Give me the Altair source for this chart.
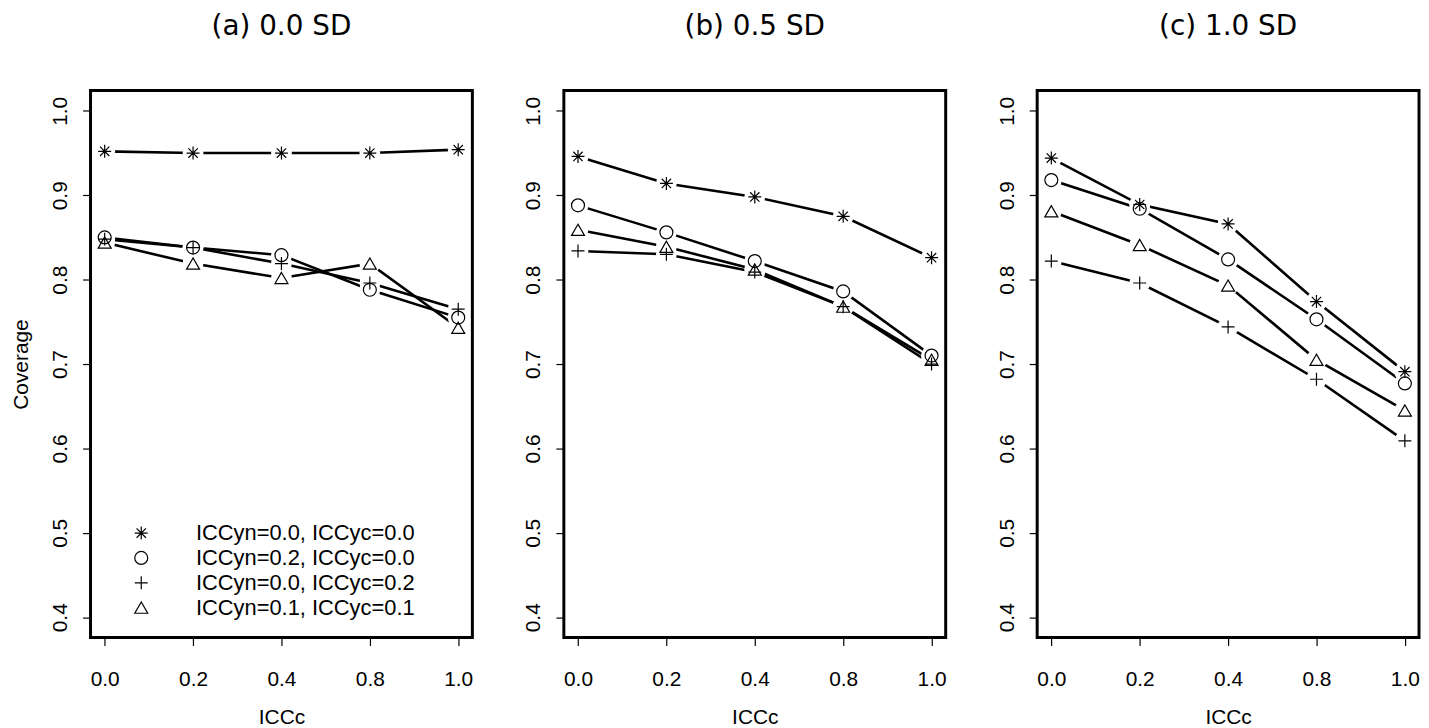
import altair as alt
import pandas as pd

# ---- data ----
x_labels = ["0.0", "0.2", "0.4", "0.8", "1.0"]
series_names = [
    "ICCyn=0.0, ICCyc=0.0",
    "ICCyn=0.2, ICCyc=0.0",
    "ICCyn=0.0, ICCyc=0.2",
    "ICCyn=0.1, ICCyc=0.1",
]
panel_titles = ["(a) 0.0 SD", "(b) 0.5 SD", "(c) 1.0 SD"]

a_s1 = [0.952, 0.950, 0.950, 0.950, 0.954]
a_s2 = [0.850, 0.838, 0.829, 0.788, 0.755]
a_s3 = [0.848, 0.838, 0.819, 0.796, 0.765]
a_s4 = [0.844, 0.819, 0.802, 0.819, 0.743]

b_s1 = [0.946, 0.914, 0.898, 0.875, 0.826]
b_s2 = [0.888, 0.856, 0.822, 0.786, 0.710]
b_s3 = [0.834, 0.830, 0.809, 0.768, 0.700]
b_s4 = [0.859, 0.839, 0.812, 0.768, 0.705]

c_s1 = [0.944, 0.889, 0.866, 0.774, 0.691]
c_s2 = [0.918, 0.884, 0.824, 0.753, 0.677]
c_s3 = [0.822, 0.796, 0.744, 0.682, 0.609]
c_s4 = [0.881, 0.841, 0.793, 0.705, 0.645]

y_ticks = [0.4, 0.5, 0.6, 0.7, 0.8, 0.9, 1.0]

panels = [
    [a_s1, a_s2, a_s3, a_s4],
    [b_s1, b_s2, b_s3, b_s4],
    [c_s1, c_s2, c_s3, c_s4],
]

STAR = "M-1,0L1,0M0,-1L0,1M-0.72,-0.72L0.72,0.72M-0.72,0.72L0.72,-0.72"
PLUS = "M-1,0L1,0M0,-1L0,1"
shape_range = [STAR, "circle", PLUS, "triangle-up"]

FONT = "Liberation Sans"
W, H = 384, 550


def make_panel(idx):
    rows = []
    for s_name, vals in zip(series_names, panels[idx]):
        for xl, v in zip(x_labels, vals):
            rows.append({"series": s_name, "ICCc": xl, "Coverage": v})
    df = pd.DataFrame(rows)

    x_enc = alt.X(
        "ICCc:O",
        sort=x_labels,
        scale=alt.Scale(type="point", padding=0.16),
        axis=alt.Axis(title="ICCc", labelAngle=0, labelPadding=23,
                      titlePadding=17),
    )
    if idx == 0:
        y_axis = alt.Axis(title="Coverage", values=y_ticks, format=".1f",
                          labelAngle=-90, labelPadding=12, titlePadding=18)
    else:
        y_axis = alt.Axis(title=None, values=y_ticks, format=".1f",
                          labelAngle=-90, labelPadding=12)
    y_enc = alt.Y("Coverage:Q", scale=alt.Scale(domain=[0.376, 1.024], nice=False, zero=False),
                  axis=y_axis)

    base = alt.Chart(df)
    lines = base.mark_line(color="black", strokeWidth=2.6).encode(
        x=x_enc, y=y_enc, detail="series:N"
    )
    halo = base.mark_circle(fill="white", opacity=1, fillOpacity=1, size=440,
                            strokeOpacity=0).encode(
        x=x_enc, y=y_enc, detail="series:N"
    )
    if idx == 0:
        legend = alt.Legend(
            title=None, orient="none", legendX=40, legendY=434,
            labelFontSize=22, labelFont=FONT, labelColor="black", labelLimit=500,
            labelOffset=44, rowPadding=3, symbolSize=170,
            symbolStrokeColor="black", symbolFillColor="transparent",
            symbolStrokeWidth=1.2, padding=0,
        )
    else:
        legend = None
    pts = base.mark_point(filled=False, color="black", size=170,
                          strokeWidth=1.2, opacity=1).encode(
        x=x_enc, y=y_enc,
        shape=alt.Shape("series:N", scale=alt.Scale(domain=series_names, range=shape_range),
                        legend=legend),
    )
    return alt.layer(lines, halo, pts).properties(
        width=W, height=H,
        title=alt.TitleParams(panel_titles[idx], fontSize=28, font="DejaVu Sans",
                              fontWeight="normal", anchor="middle", offset=50,
                              color="black"),
    )


chart = alt.hconcat(
    make_panel(0), make_panel(1), make_panel(2), spacing=92, bounds="flush"
).resolve_scale(shape="independent").resolve_legend(shape="independent").properties(
    padding={"left": 1, "right": 0, "top": 1, "bottom": 2}
).configure_view(
    stroke="black", strokeWidth=3
).configure_axis(
    domain=False, grid=False, tickColor="black", tickWidth=1.2, tickSize=8,
    labelFont=FONT, labelFontSize=21, labelColor="black",
    titleFont=FONT, titleFontSize=21, titleFontWeight="normal", titleColor="black",
)

chart.save("out.html", embed_options={"renderer": "svg", "actions": False})
